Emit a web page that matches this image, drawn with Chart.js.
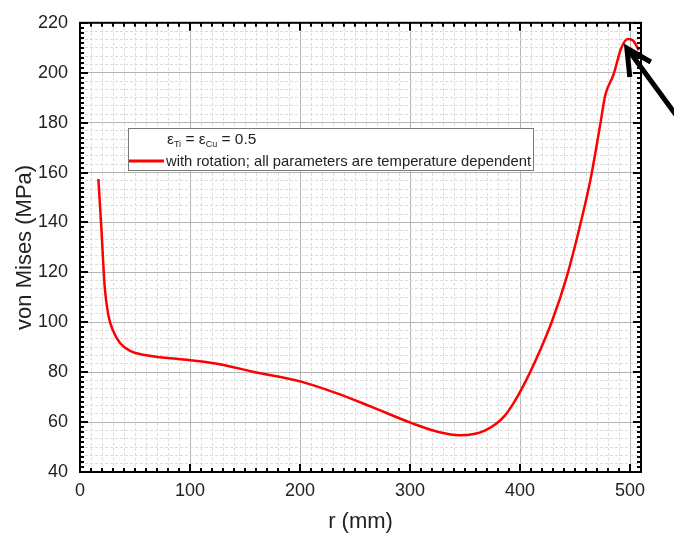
<!DOCTYPE html>
<html>
<head>
<meta charset="utf-8">
<script src="https://cdn.jsdelivr.net/npm/chart.js@4"></script>
<style>
  html, body { margin: 0; padding: 0; background: #fff; }
  #wrap { width: 674px; height: 540px; position: relative; }
</style>
</head>
<body>
<div id="wrap"><canvas id="myChart"></canvas></div>
<script>
// datos
const rValues = [16.7, 19.5, 22.5, 25.7, 30.3, 36.4, 45.5, 60, 100, 127, 157, 201, 233, 264, 301, 327, 345, 358, 368, 378, 386, 394, 403, 418, 429, 442, 453, 464, 473, 477.5, 485, 492, 498, 503, 508];
const vonMises = [157.4, 137, 114, 103, 96.4, 91.7, 88.5, 86.8, 84.8, 83.2, 80.2, 76.2, 71.6, 66.3, 59.7, 55.9, 54.7, 55.2, 56.6, 59.2, 62.5, 67.5, 74.5, 88.5, 100.3, 117.5, 135.9, 157, 179.4, 191, 199.2, 209.8, 213.5, 212.8, 209];
const xTickLabels = [0, 100, 200, 300, 400, 500];
const yTickLabels = [40, 60, 80, 100, 120, 140, 160, 180, 200, 220];
const seriesLabel = 'with rotation; all parameters are temperature dependent';

const FONT = "'Liberation Sans', Arial, sans-serif";

function isMajor(v, step) {
    return Math.abs(v / step - Math.round(v / step)) < 1e-6;
}

// ticks hacia dentro, marco, leyenda y flecha
const framePlugin = {
    id: 'frame',
    afterDatasetsDraw(chart) {
        const ctx = chart.ctx;
        const a = chart.chartArea;
        const xs = chart.scales.x, ys = chart.scales.y;
        ctx.save();
        ctx.strokeStyle = '#000';
        ctx.lineWidth = 2;
        ctx.beginPath();
        for (let v = xs.min; v <= xs.max + 1e-6; v += 10) {
            const p = Math.round(xs.getPixelForValue(v));
            const len = isMajor(v, 100) ? 8 : 4;
            ctx.moveTo(p, a.bottom); ctx.lineTo(p, a.bottom - len);
            ctx.moveTo(p, a.top); ctx.lineTo(p, a.top + len);
        }
        for (let v = ys.min; v <= ys.max + 1e-6; v += 2) {
            const p = Math.round(ys.getPixelForValue(v));
            const len = isMajor(v, 20) ? 8 : 4;
            ctx.moveTo(a.left, p); ctx.lineTo(a.left + len, p);
            ctx.moveTo(a.right, p); ctx.lineTo(a.right - len, p);
        }
        ctx.stroke();
        ctx.strokeRect(a.left, a.top, a.right - a.left, a.bottom - a.top);

        // leyenda
        const bx = 128, by = 128, bw = 405, bh = 42;
        ctx.fillStyle = '#fff';
        ctx.fillRect(bx, by, bw, bh);
        ctx.lineWidth = 1;
        ctx.strokeStyle = '#7a7a7a';
        ctx.strokeRect(bx + 0.5, by + 0.5, bw, bh);
        ctx.fillStyle = '#222';
        ctx.textBaseline = 'alphabetic';
        let tx = 167;
        const parts = [['\u03b5', 15.5, 0], ['Ti', 9, 3], [' = \u03b5', 15.5, 0], ['Cu', 9, 3], [' = 0.5', 15.5, 0]];
        parts.forEach(([t, s, dy]) => {
            ctx.font = s + 'px ' + FONT;
            ctx.fillText(t, tx, 144 + dy);
            tx += ctx.measureText(t).width;
        });
        ctx.strokeStyle = '#ff0000';
        ctx.lineWidth = 3;
        ctx.beginPath();
        ctx.moveTo(129, 161); ctx.lineTo(164, 161);
        ctx.stroke();
        ctx.font = '14.8px ' + FONT;
        ctx.fillStyle = '#222';
        ctx.fillText(seriesLabel, 166, 166, 365);

        // flecha hacia el maximo
        const iMax = vonMises.indexOf(Math.max(...vonMises));
        const px = xs.getPixelForValue(rValues[iMax]) - 1;
        const py = ys.getPixelForValue(vonMises[iMax]) + 9;
        ctx.strokeStyle = '#000';
        ctx.lineWidth = 5;
        ctx.lineJoin = 'miter';
        ctx.beginPath();
        ctx.moveTo(px + 3, py + 4); ctx.lineTo(px + 50, py + 68);
        ctx.moveTo(px + 3, py + 29); ctx.lineTo(px, py); ctx.lineTo(px + 24, py + 14);
        ctx.stroke();
        ctx.restore();
    }
};

const data = {
    datasets: [{
        label: seriesLabel,
        data: rValues.map((r, i) => ({ x: r, y: vonMises[i] })),
        borderColor: '#ff0000',
        borderWidth: 2.5,
        pointRadius: 0,
        cubicInterpolationMode: 'monotone',
        fill: false
    }]
};

const options = {
    responsive: true,
    maintainAspectRatio: false,
    animation: false,
    layout: { padding: { top: 17, right: 33, left: 0, bottom: 0 } },
    plugins: {
        legend: { display: false },
        tooltip: { enabled: false }
    },
    scales: {
        x: {
            type: 'linear',
            min: 0,
            max: 510,
            afterFit(scale) { scale.height = 68; },
            ticks: {
                stepSize: 10,
                autoSkip: false,
                maxRotation: 0,
                padding: 8,
                color: '#222',
                font: { family: FONT, size: 18 },
                callback: v => xTickLabels.includes(v) ? String(v) : ''
            },
            grid: {
                drawTicks: false,
                color: c => isMajor(c.tick.value, 100) ? '#b4b4b4' : '#dcdcdc',
                lineWidth: 1
            },
            border: {
                display: false,
                dash: c => isMajor(c.tick.value, 100) ? [] : [3, 2]
            },
            title: {
                display: true,
                text: 'r (mm)',
                color: '#222',
                font: { family: FONT, size: 22 },
                padding: { top: 0, bottom: 5 }
            }
        },
        y: {
            min: 40,
            max: 220,
            afterFit(scale) { scale.width = 80; },
            ticks: {
                stepSize: 20 / 6,
                autoSkip: false,
                padding: 12,
                color: '#222',
                font: { family: FONT, size: 18 },
                callback: v => {
                    const k = Math.round(v);
                    return (Math.abs(v - k) < 1e-6 && yTickLabels.includes(k)) ? String(k) : '';
                }
            },
            grid: {
                drawTicks: false,
                color: c => isMajor(c.tick.value, 20) ? '#b4b4b4' : '#dcdcdc',
                lineWidth: 1
            },
            border: {
                display: false,
                dash: c => isMajor(c.tick.value, 20) ? [] : [3, 2]
            },
            title: {
                display: true,
                text: 'von Mises (MPa)',
                color: '#222',
                font: { family: FONT, size: 22 },
                padding: { top: 12, bottom: 0 }
            }
        }
    }
};

const config = {
    type: 'line',
    data,
    options,
    plugins: [framePlugin]
};

const myChart = new Chart(document.getElementById('myChart').getContext('2d'), config);
</script>
</body>
</html>
